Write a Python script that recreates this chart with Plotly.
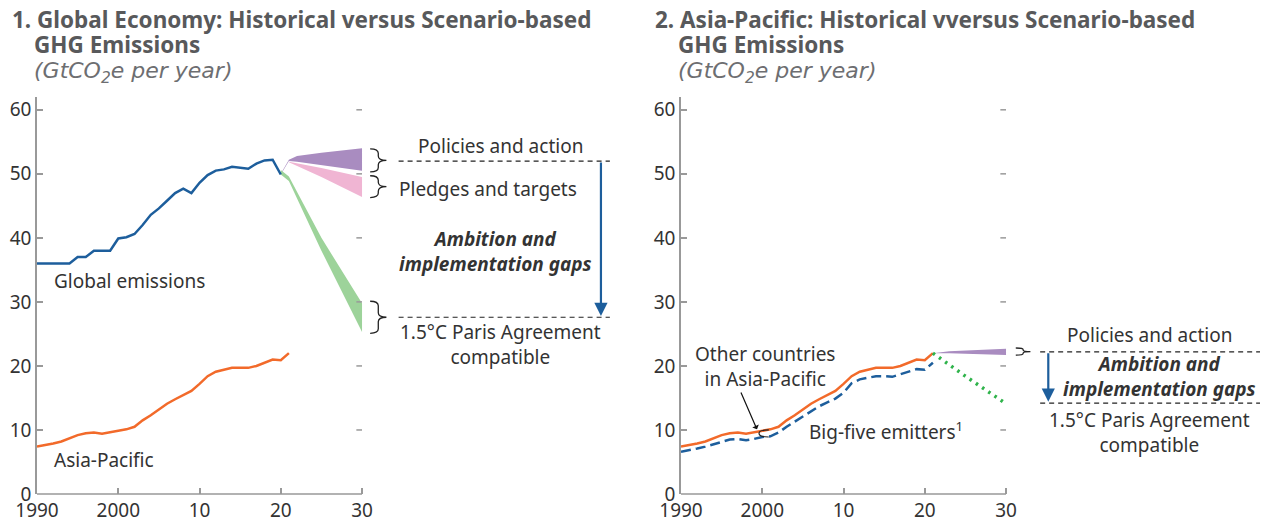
import plotly.graph_objects as go

# historical series
years_global = list(range(1990, 2021))
global_emissions = [36.0, 36.0, 36.0, 36.0, 36.0, 37.0, 37.0, 38.0, 38.0, 38.0,
                    39.9, 40.1, 40.6, 42.0, 43.6, 44.6, 45.8, 47.0, 47.7, 47.0,
                    48.6, 49.8, 50.5, 50.7, 51.1, 50.9, 50.8, 51.6, 52.1, 52.2, 49.9]

years_ap = list(range(1990, 2022))
asia_pacific = [7.4, 7.6, 7.9, 8.2, 8.7, 9.2, 9.5, 9.6, 9.4, 9.6,
                9.9, 10.1, 10.5, 11.5, 12.3, 13.2, 14.1, 14.8, 15.5, 16.1,
                17.2, 18.4, 19.1, 19.4, 19.7, 19.7, 19.7, 20.0, 20.5, 21.0, 20.9, 22.0]
big_five = [6.6, 6.8, 7.1, 7.4, 7.8, 8.2, 8.5, 8.6, 8.4, 8.6,
            8.9, 9.0, 9.6, 10.5, 11.3, 12.2, 13.0, 13.7, 14.3, 14.9,
            15.8, 17.3, 17.9, 18.2, 18.4, 18.4, 18.3, 18.7, 19.1, 19.5, 19.4, 20.5]

# global scenario bands
policies_years = [2020, 2021, 2022, 2025, 2030]
policies_hi = [50.0, 52.2, 52.8, 53.3, 54.0]
policies_lo = [49.9, 52.0, 51.9, 51.4, 50.5]

pledges_years = [2021, 2025, 2030]
pledges_hi = [51.9, 50.9, 49.5]
pledges_lo = [51.8, 49.5, 46.4]

paris_years = [2020, 2021, 2025, 2030]
paris_hi = [50.6, 49.6, 40.0, 29.8]
paris_lo = [49.9, 48.9, 38.0, 25.3]

# Asia-Pacific scenarios
ap_policies_years = [2021, 2023, 2030]
ap_policies_hi = [22.0, 22.3, 22.7]
ap_policies_lo = [22.0, 22.0, 21.7]

ap_paris_years = [2021, 2025, 2030]
ap_paris = [22.0, 18.4, 14.1]

tick_years = [1990, 2000, 2010, 2020, 2030]
tick_text = ["1990", "2000", "10", "20", "30"]
y_ticks = [0, 10, 20, 30, 40, 50, 60]

BLUE = "#1d5e9c"
ORANGE = "#f26a2a"
PURPLE = "#a98cc0"
PINK = "#f0b5d3"
GREEN = "#9dd39a"
DOTGREEN = "#2fb34b"
TXT = "#333333"
GRAY = "#999999"
FONT = "Noto Sans"

# page body has an 8px margin, so the figure sits 8px in from the window corner
OFF = 8
W, H = 1260, 514


def px(x):
    return (x - OFF) / W


def py(y):
    return 1 - (y - OFF) / H


XR = [1990, 2061.5]
YR = [0, 62]
left_dom = [px(37), px(618)]
right_dom = [px(681), px(1262)]
ydom = [py(494), py(97)]

fig = go.Figure()


def band(years, lo, hi, color, xa, ya):
    fig.add_trace(go.Scatter(x=years, y=lo, mode="lines", line=dict(width=0, color=color),
                             xaxis=xa, yaxis=ya, hoverinfo="skip", showlegend=False))
    fig.add_trace(go.Scatter(x=years, y=hi, mode="lines", line=dict(width=0, color=color),
                             fill="tonexty", fillcolor=color,
                             xaxis=xa, yaxis=ya, hoverinfo="skip", showlegend=False))


# panel 1
band(policies_years, policies_lo, policies_hi, PURPLE, "x", "y")
band(pledges_years, pledges_lo, pledges_hi, PINK, "x", "y")
band(paris_years, paris_lo, paris_hi, GREEN, "x", "y")
fig.add_trace(go.Scatter(x=years_global, y=global_emissions, mode="lines",
                         line=dict(color=BLUE, width=2.5), showlegend=False))
fig.add_trace(go.Scatter(x=years_ap, y=asia_pacific, mode="lines",
                         line=dict(color=ORANGE, width=2.5), showlegend=False))

# panel 2
band(ap_policies_years, ap_policies_lo, ap_policies_hi, PURPLE, "x2", "y2")
fig.add_trace(go.Scatter(x=years_ap, y=big_five, mode="lines", xaxis="x2", yaxis="y2",
                         line=dict(color=BLUE, width=2.5, dash="10px,5px"), showlegend=False))
fig.add_trace(go.Scatter(x=years_ap, y=asia_pacific, mode="lines", xaxis="x2", yaxis="y2",
                         line=dict(color=ORANGE, width=2.5), showlegend=False))
fig.add_trace(go.Scatter(x=ap_paris_years, y=ap_paris, mode="lines", xaxis="x2", yaxis="y2",
                         line=dict(color=DOTGREEN, width=3.5, dash="2.5px,5px"), showlegend=False))

axis_x = dict(range=XR, tickvals=tick_years, ticktext=tick_text, ticks="inside",
              ticklen=6, tickcolor=GRAY, tickwidth=1.5, showline=False, showgrid=False,
              zeroline=False, automargin=False, ticklabelstandoff=3,
              tickfont=dict(family=FONT, size=19, color=TXT))
axis_y = dict(range=YR, tickvals=y_ticks, ticks="inside", ticklen=6, tickcolor=GRAY,
              tickwidth=1.5, showline=True, linecolor=GRAY, linewidth=1.5, showgrid=False,
              zeroline=False, automargin=False, domain=ydom,
              tickfont=dict(family=FONT, size=19, color=TXT))

fig.update_layout(
    width=W, height=H,
    margin=dict(l=0, r=0, t=0, b=0),
    plot_bgcolor="white", paper_bgcolor="white",
    font=dict(family=FONT, size=19, color=TXT),
    xaxis=dict(axis_x, domain=left_dom, anchor="y"),
    yaxis=dict(axis_y, anchor="x"),
    xaxis2=dict(axis_x, domain=right_dom, anchor="y2"),
    yaxis2=dict(axis_y, anchor="x2"),
)

shapes = []
for xa, ya in (("x", "y"), ("x2", "y2")):
    # baseline 1990-2030
    shapes.append(dict(type="line", xref=xa, yref="paper", x0=1990, x1=2030,
                       y0=ydom[0], y1=ydom[0], line=dict(color=GRAY, width=1.5)))
    # right-edge ticks
    for v in y_ticks[1:]:
        shapes.append(dict(type="line", xref=xa, yref=ya, x0=2029.3, x1=2030, y0=v, y1=v,
                           line=dict(color=GRAY, width=1.5), layer="above"))


def brace(xa, ya, x0, top, bot, w=2.0, d=0.7):
    xm = x0 + w / 2
    x1 = x0 + w
    ym = (top + bot) / 2
    path = (f"M {x0},{top} Q {xm},{top} {xm},{top - d} L {xm},{ym + d} "
            f"Q {xm},{ym} {x1},{ym} Q {xm},{ym} {xm},{ym - d} L {xm},{bot + d} "
            f"Q {xm},{bot} {x0},{bot}")
    return dict(type="path", xref=xa, yref=ya, path=path, line=dict(color="#222", width=1.3))


def dashed(xa, ya, y, x0, x1):
    return dict(type="line", xref=xa, yref=ya, x0=x0, x1=x1, y0=y, y1=y,
                line=dict(color="#222", width=1.2, dash="5px,4px"))


shapes += [
    brace("x", "y", 2031.0, 53.9, 50.3),
    brace("x", "y", 2031.0, 49.7, 46.3),
    brace("x", "y", 2031.0, 30.1, 25.1),
    dashed("x", "y", 52.0, 2034.5, 2060.5),
    dashed("x", "y", 27.6, 2034.5, 2060.5),
    brace("x2", "y2", 2031.2, 22.8, 21.7, w=1.8, d=0.25),
    dashed("x2", "y2", 22.2, 2034.2, 2061.3),
    dashed("x2", "y2", 14.2, 2034.2, 2061.3),
    # small brace between the two Asia-Pacific lines
    dict(type="path", xref="x2", yref="y2",
         path="M 2000.8,10.0 Q 1999.6,10.0 1999.6,9.5 Q 1999.6,8.9 2000.8,8.9",
         line=dict(color="#222", width=1.2)),
]

ann = []


def txt(xa, ya, x, y, text, xanchor="center", size=19, color=TXT, family=FONT):
    ann.append(dict(xref=xa, yref=ya, x=x, y=y, text=text, showarrow=False,
                    xanchor=xanchor, yanchor="middle", align=xanchor if xanchor != "center" else "center",
                    font=dict(family=family, size=size, color=color)))


# titles
TCOL = "#58595b"
STCOL = "#6d6e71"
SUBFONT = "DejaVu Sans"
txt("paper", "paper", px(10), py(19), "<b>1. Global Economy: Historical versus Scenario-based</b>",
    "left", 22.5, TCOL)
txt("paper", "paper", px(32), py(45), "<b>GHG Emissions</b>", "left", 22.5, TCOL)
txt("paper", "paper", px(32), py(72), "<i>(GtCO<sub>2</sub>e per year)</i>", "left", 22, STCOL, SUBFONT)
txt("paper", "paper", px(653), py(19), "<b>2. Asia-Pacific: Historical vversus Scenario-based</b>",
    "left", 22.5, TCOL)
txt("paper", "paper", px(676), py(45), "<b>GHG Emissions</b>", "left", 22.5, TCOL)
txt("paper", "paper", px(676), py(72), "<i>(GtCO<sub>2</sub>e per year)</i>", "left", 22, STCOL, SUBFONT)

# panel 1 labels
txt("x", "y", 1991.9, 33.2, "Global emissions", "left")
txt("x", "y", 1991.9, 5.3, "Asia-Pacific", "left")
txt("x", "y", 2047.1, 54.4, "Policies and action")
txt("x", "y", 2034.3, 47.7, "Pledges and targets", "left")
txt("x", "y", 2046.4, 37.8, "<b><i>Ambition and<br>implementation gaps</i></b>")
txt("x", "y", 2047.0, 23.3, "1.5°C Paris Agreement<br>compatible")

# panel 2 labels
txt("x2", "y2", 2047.6, 24.9, "Policies and action")
txt("x2", "y2", 2048.9, 18.4, "<b><i>Ambition and<br>implementation gaps</i></b>")
txt("x2", "y2", 2047.6, 9.6, "1.5°C Paris Agreement<br>compatible")
txt("x2", "y2", 2000.3, 19.9, "Other countries<br>in Asia-Pacific")
txt("x2", "y2", 2005.5, 9.9, "Big-five emitters<sup>1</sup>", "left")

# arrows
ann.append(dict(xref="x", yref="y", axref="x", ayref="y", x=2059.4, y=27.8, ax=2059.4, ay=52.0,
                text="", showarrow=True, arrowhead=2, arrowsize=1.2, arrowwidth=2.2, arrowcolor=BLUE))
ann.append(dict(xref="x2", yref="y2", axref="x2", ayref="y2", x=2035.2, y=14.4, ax=2035.2, ay=22.2,
                text="", showarrow=True, arrowhead=2, arrowsize=1.2, arrowwidth=2.2, arrowcolor=BLUE))
ann.append(dict(xref="x2", yref="y2", axref="x2", ayref="y2", x=1999.35, y=10.1, ax=1997.3, ay=16.1,
                text="", showarrow=True, arrowhead=1, arrowsize=1, arrowwidth=1.2, arrowcolor="#111"))

fig.update_layout(shapes=shapes, annotations=ann)

fig.write_html("out.html")
